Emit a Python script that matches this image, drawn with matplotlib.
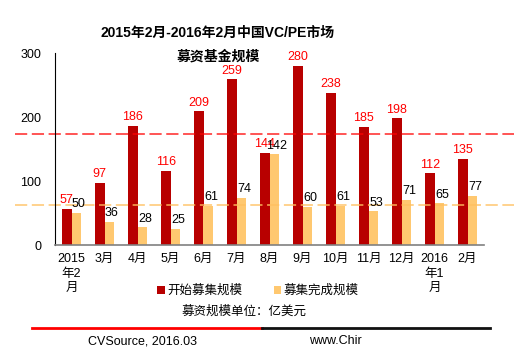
import matplotlib.pyplot as plt
import numpy as np

plt.rcParams['font.family'] = ['Liberation Sans', 'Noto Sans CJK SC', 'DejaVu Sans']

months = ['2015\n年2\n月', '3月', '4月', '5月', '6月', '7月', '8月', '9月',
          '10月', '11月', '12月', '2016\n年1\n月', '2月']
start_vals = [57, 97, 186, 116, 209, 259, 144, 280, 238, 185, 198, 112, 135]
done_vals = [50, 36, 28, 25, 61, 74, 142, 60, 61, 53, 71, 65, 77]
start_avg = 173
done_avg = 62

red = '#B80000'
orange = '#FFC870'

fig = plt.figure(figsize=(5.15, 3.59), dpi=100)
ax = fig.add_axes([55 / 515, 1 - 245 / 359, 429 / 515, 192 / 359])

x = np.arange(len(months))
w = 0.29
ax.bar(x - w / 2, start_vals, w, color=red, label='开始募集规模')
ax.bar(x + w / 2, done_vals, w, color=orange, label='募集完成规模')

for i in range(len(months)):
    ax.text(x[i] - w / 2, start_vals[i] + 4, str(start_vals[i]), color='#FF0000',
            ha='center', va='bottom', fontsize=9)
    ax.text(x[i] + w / 2 + 0.08, done_vals[i] + 4, str(done_vals[i]), color='black',
            ha='center', va='bottom', fontsize=9)

ax.axhline(start_avg, xmin=-0.093, xmax=1.07, color='#FF0000', lw=1.1,
           linestyle=(0, (8, 3)), clip_on=False, alpha=0.85)
ax.axhline(done_avg, xmin=-0.093, xmax=1.07, color='#FFC060', lw=1.1,
           linestyle=(0, (8, 3)), clip_on=False, alpha=0.9)

ax.set_xlim(-0.5, len(months) - 0.5)
ax.set_ylim(0, 300)
ax.set_yticks([0, 100, 200, 300])
ax.set_xticks(x)
ax.set_xticklabels(months, fontsize=9, linespacing=1.25)
ax.tick_params(axis='both', length=0, labelsize=9)
ax.tick_params(axis='y', pad=10)
ax.tick_params(axis='x', pad=6)
for s in ['top', 'right']:
    ax.spines[s].set_visible(False)
ax.spines['left'].set_color('black')
ax.spines['bottom'].set_color('#808080')
ax.spines['bottom'].set_linewidth(1.2)

fig.text(218 / 515, 1 - 33 / 359, '2015年2月-2016年2月中国VC/PE市场', ha='center',
         va='center', fontsize=10, fontweight='bold')
fig.text(218 / 515, 1 - 57 / 359, '募资基金规模', ha='center', va='center',
         fontsize=10, fontweight='bold')

ax.legend(loc='center', bbox_to_anchor=(258 / 515, 1 - 291 / 359),
          bbox_transform=fig.transFigure, ncol=2, frameon=False, fontsize=9,
          handlelength=0.6, handleheight=0.6, handletextpad=0.2, columnspacing=2.5)

fig.text(244 / 515, 1 - 312 / 359, '募资规模单位：亿美元', ha='center', va='center', fontsize=9)

fig.add_artist(plt.Line2D([32 / 515, 262 / 515], [1 - 328 / 359] * 2, color='#FF0000', lw=2))
fig.add_artist(plt.Line2D([262 / 515, 490 / 515], [1 - 328 / 359] * 2, color='#111111', lw=2))

fig.text(88 / 515, 1 - 341 / 359, 'CVSource, 2016.03', ha='left', va='center', fontsize=9)
fig.text(309 / 515, 1 - 341 / 359, 'www.Chir', ha='left', va='center', fontsize=9)

fig.savefig('out.png', dpi=100)
